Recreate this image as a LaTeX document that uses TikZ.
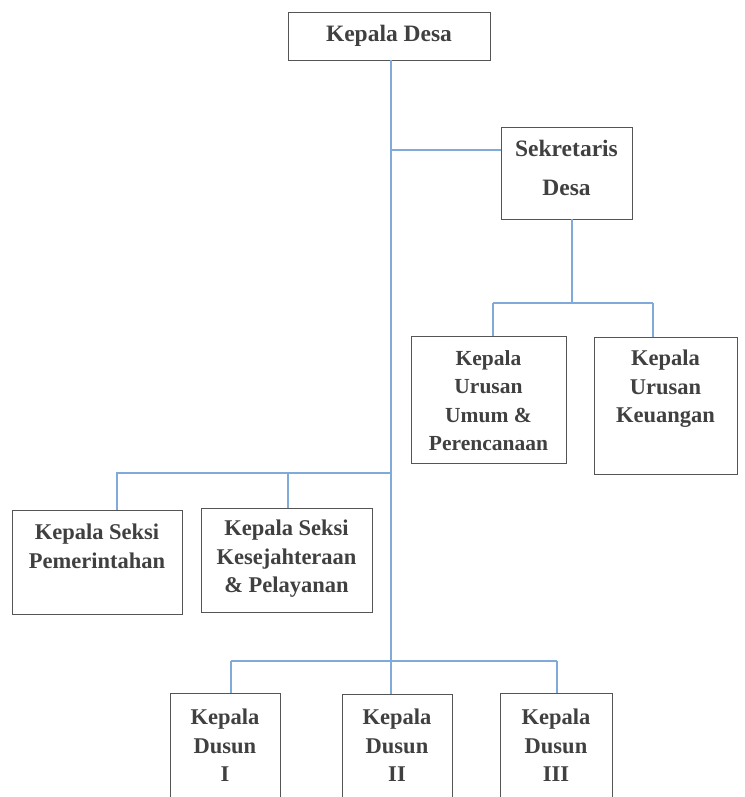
\documentclass[tikz,border=0pt]{standalone}
\usepackage{fontspec}
\setmainfont{Liberation Serif}
\definecolor{linkblue}{HTML}{80AADA}
\definecolor{boxgray}{HTML}{555555}
\definecolor{txtgray}{HTML}{404040}
\begin{document}
\begin{tikzpicture}[x=1pt,y=-1pt,
  unit/.style={draw=boxgray, line width=0.9pt, rectangle, inner sep=0pt},
  lbl/.style={anchor=north, inner sep=0pt, align=center, text=txtgray,
    font=\fontsize{22.5pt}{28.5pt}\selectfont\bfseries},
  link/.style={draw=linkblue, line width=1.1pt}]
\useasboundingbox (0,0) rectangle (744,797);

% boxes: centre and size
\newcommand{\orgbox}[5]{%
  \node[unit, minimum width=#4pt, minimum height=#5pt] (#1) at (#2,#3) {};}
\orgbox{kdesa}{389}{36}{202}{48}
\orgbox{sekdes}{566.5}{173}{131}{92}
\orgbox{kaurum}{488.5}{399.5}{155}{127}
\orgbox{kaurkeu}{665.5}{405.5}{143}{137}
\orgbox{kspem}{97}{562}{170}{104}
\orgbox{kskes}{286.5}{560}{171}{104}
\orgbox{kd1}{225}{748}{110}{110}
\orgbox{kd2}{397}{748.5}{110}{109}
\orgbox{kd3}{556}{748}{112}{110}

% texts
\node[lbl, anchor=center, font=\fontsize{23.5pt}{28.5pt}\selectfont\bfseries] (tkdesa) at (kdesa.center) {Kepala Desa};
\node[lbl, font=\fontsize{23.5pt}{28.5pt}\selectfont\bfseries] (tsek1) at ([yshift=-13.5pt]sekdes.north) {Sekretaris};
\node[lbl, font=\fontsize{23.5pt}{28.5pt}\selectfont\bfseries] (tsek2) at ([yshift=-53.5pt]sekdes.north) {Desa};
\node[lbl, font=\fontsize{21.5pt}{28.5pt}\selectfont\bfseries] (tkaurum) at ([yshift=-14.5pt]kaurum.north) {Kepala\\Urusan\\Umum \&\\Perencanaan};
\node[lbl] (tkaurkeu) at ([yshift=-13.5pt]kaurkeu.north) {Kepala\\Urusan\\Keuangan};
\node[lbl] (tkspem) at ([yshift=-14.5pt]kspem.north) {Kepala Seksi\\Pemerintahan};
\node[lbl] (tkskes) at ([yshift=-12.5pt]kskes.north) {Kepala Seksi\\Kesejahteraan\\\& Pelayanan};
\node[lbl] (tkd1) at ([yshift=-16.5pt]kd1.north) {Kepala\\Dusun\\I};
\node[lbl] (tkd2) at ([yshift=-15.5pt]kd2.north) {Kepala\\Dusun\\II};
\node[lbl] (tkd3) at ([yshift=-16.5pt]kd3.north) {Kepala\\Dusun\\III};

% junction points on the main trunk
\coordinate (jsek) at (391,150);
\coordinate (jseksi) at (391,473);
\coordinate (jdusun) at (391,661);
\coordinate (jkaur) at (572,303);

% connectors
\draw[link] (kdesa.south -| jsek) -- (jdusun);
\draw[link] (jsek) -- (jsek -| sekdes.west);
\draw[link] (sekdes.south -| jkaur) -- (jkaur);
\draw[link] (493,303) -- (653,303);
\draw[link] (493,303) -- (kaurum.north -| 493,0);
\draw[link] (653,303) -- (kaurkeu.north -| 653,0);
\draw[link] (jseksi) -- (117,473) -- (kspem.north -| 117,0);
\draw[link] (288,473) -- (kskes.north -| 288,0);
\draw[link] (231,661) -- (557,661);
\draw[link] (231,661) -- (kd1.north -| 231,0);
\draw[link] (jdusun) -- (kd2.north -| jdusun);
\draw[link] (557,661) -- (kd3.north -| 557,0);
\end{tikzpicture}
\end{document}
